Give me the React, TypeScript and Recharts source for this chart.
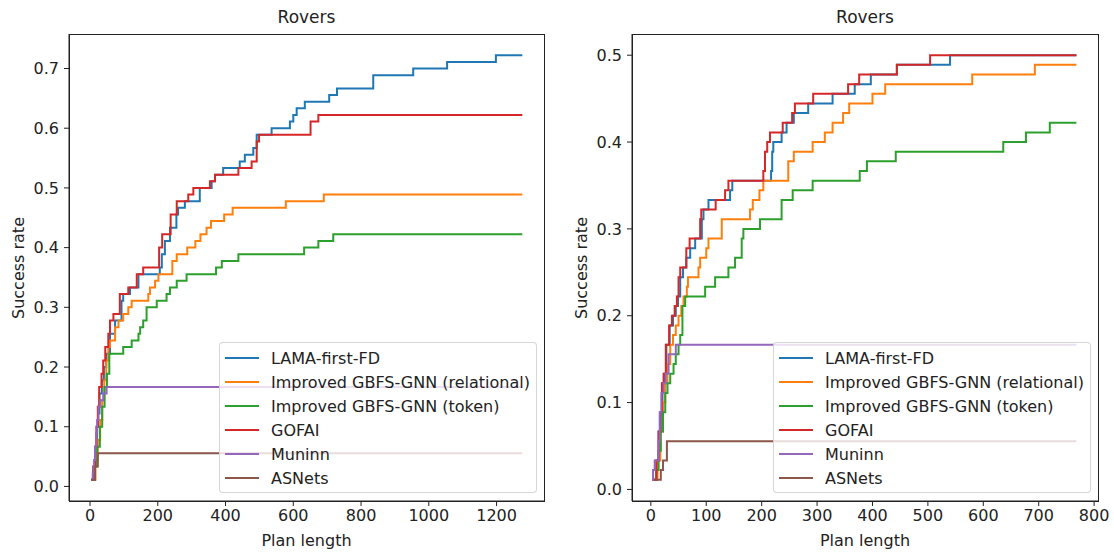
import React from 'react';
import { LineChart, Line, XAxis, YAxis } from 'recharts';

// Rovers benchmark: 90 problems, curves give cumulative solved count vs plan length
const NUM_PROBLEMS = 90;

const seriesNames = [
  'LAMA-first-FD',
  'Improved GBFS-GNN (relational)',
  'Improved GBFS-GNN (token)',
  'GOFAI',
  'Muninn',
  'ASNets',
];
const seriesColors = ['#1f77b4', '#ff7f0e', '#2ca02c', '#d62728', '#9467bd', '#8c564b'];

// [plan length, solved] — left panel
const leftLama: [number, number][] = [
  [4, 1], [10, 3], [15, 6], [20, 9], [24, 11], [28, 14], [35, 16], [41, 18], [48, 20], [59, 23],
  [74, 25], [93, 28], [98, 29], [118, 30], [143, 32], [206, 33], [212, 35], [221, 37], [236, 39],
  [255, 41], [260, 42], [280, 43], [324, 45], [359, 46], [369, 47], [393, 48], [442, 49], [457, 50],
  [482, 51], [492, 53], [536, 54], [590, 55], [600, 56], [610, 57], [634, 58], [706, 59], [729, 60],
  [836, 62], [954, 63], [1054, 64], [1198, 65], [1276, 65],
];
const leftRelational: [number, number][] = [
  [8, 1], [16, 4], [23, 7], [30, 10], [36, 13], [42, 16], [48, 19], [54, 21], [59, 22], [74, 24],
  [84, 25], [98, 26], [113, 27], [123, 28], [172, 29], [177, 30], [192, 31], [202, 32], [243, 34],
  [256, 35], [287, 36], [311, 37], [326, 38], [344, 39], [357, 40], [396, 41], [421, 42], [578, 43],
  [690, 44], [1276, 44],
];
const leftToken: [number, number][] = [
  [4, 1], [14, 3], [21, 6], [29, 9], [36, 12], [43, 15], [50, 17], [57, 20], [98, 21], [123, 22],
  [143, 23], [148, 24], [157, 25], [167, 27], [197, 28], [226, 29], [236, 30], [256, 31], [285, 32],
  [372, 33], [389, 34], [438, 35], [632, 36], [674, 37], [718, 38], [1276, 38],
];
const leftGofai: [number, number][] = [
  [4, 1], [10, 3], [15, 6], [19, 9], [23, 12], [27, 15], [34, 17], [39, 19], [45, 21], [54, 23],
  [59, 25], [69, 26], [88, 29], [113, 30], [138, 32], [157, 33], [204, 36], [213, 38], [238, 41],
  [256, 43], [290, 44], [305, 45], [354, 46], [369, 47], [438, 48], [477, 49], [492, 52], [499, 53],
  [651, 55], [674, 56], [1276, 56],
];
const leftMuninn: [number, number][] = [
  [3, 1], [8, 2], [12, 4], [15, 6], [18, 8], [21, 10], [25, 12], [30, 13], [39, 14], [49, 15], [1276, 15],
];
const leftAsnets: [number, number][] = [[3, 1], [15, 3], [23, 5], [1276, 5]];

// [plan length, solved] — right panel
const rightLama: [number, number][] = [
  [3, 1], [10, 3], [14, 6], [18, 8], [21, 11], [24, 12], [28, 15], [34, 17], [40, 18], [45, 19],
  [49, 20], [53, 22], [58, 23], [64, 24], [71, 25], [80, 26], [92, 28], [95, 29], [104, 30],
  [143, 31], [147, 32], [217, 33], [219, 35], [221, 36], [236, 37], [245, 38], [258, 39], [284, 40],
  [328, 41], [368, 42], [397, 43], [444, 44], [540, 45], [768, 45],
];
const rightRelational: [number, number][] = [
  [5, 1], [12, 3], [17, 6], [22, 9], [26, 11], [30, 13], [35, 15], [40, 16], [45, 17], [50, 18],
  [55, 19], [59, 20], [65, 21], [67, 22], [86, 23], [89, 24], [100, 25], [104, 26], [128, 28],
  [179, 29], [184, 30], [196, 31], [203, 32], [248, 34], [258, 35], [292, 36], [314, 37], [328, 38],
  [347, 39], [358, 40], [400, 41], [423, 42], [580, 43], [693, 44], [768, 44],
];
const rightToken: [number, number][] = [
  [3, 1], [10, 2], [14, 4], [18, 6], [22, 8], [26, 10], [30, 11], [35, 12], [41, 13], [45, 14],
  [50, 15], [53, 16], [57, 19], [62, 20], [98, 21], [116, 22], [140, 23], [152, 24], [164, 26],
  [167, 27], [197, 28], [236, 30], [256, 31], [292, 32], [377, 33], [390, 34], [442, 35], [636, 36],
  [677, 37], [720, 38], [768, 38],
];
const rightGofai: [number, number][] = [
  [3, 1], [10, 3], [14, 6], [17, 8], [20, 11], [23, 12], [27, 15], [33, 17], [38, 18], [43, 19],
  [47, 20], [50, 22], [53, 23], [64, 25], [70, 26], [89, 28], [91, 29], [117, 30], [134, 31],
  [140, 32], [203, 33], [206, 35], [210, 36], [215, 37], [238, 38], [255, 39], [260, 40], [293, 41],
  [356, 42], [376, 43], [444, 44], [504, 45], [768, 45],
];
const rightMuninn: [number, number][] = [
  [2, 1], [4, 2], [7, 3], [14, 5], [16, 8], [19, 10], [23, 11], [27, 12], [32, 14], [45, 15], [768, 15],
];
const rightAsnets: [number, number][] = [[8, 1], [18, 2], [22, 3], [29, 5], [768, 5]];

const leftXTicks = [0, 200, 400, 600, 800, 1000, 1200];
const leftYTicks = [0, 0.1, 0.2, 0.3, 0.4, 0.5, 0.6, 0.7];
const rightXTicks = [0, 100, 200, 300, 400, 500, 600, 700, 800];
const rightYTicks = [0, 0.1, 0.2, 0.3, 0.4, 0.5];

const toPoints = (pairs: [number, number][]) =>
  pairs.map(([x, solved]) => ({ x, y: solved / NUM_PROBLEMS }));

const FONT = '"DejaVu Sans", sans-serif';
const INK = '#222';
const TEXT_SIZE = 16;
const tickStyle = { fontSize: TEXT_SIZE, fill: INK, fontFamily: FONT };

interface PanelProps {
  left: number;
  yAxisWidth: number;
  marginRight: number;
  xDomain: [number, number];
  yDomain: [number, number];
  xTicks: number[];
  yTicks: number[];
  series: [number, number][][];
}

const W = 557;
const H = 556;
const TOP = 34;
const X_AXIS_H = 55;

const Panel: React.FC<PanelProps> = ({ left, yAxisWidth, marginRight, xDomain, yDomain, xTicks, yTicks, series }) => {
  const plotLeft = yAxisWidth;
  const plotWidth = W - yAxisWidth - marginRight;
  const plotHeight = H - TOP - X_AXIS_H;
  const plotCenterX = plotLeft + plotWidth / 2;
  const plotCenterY = TOP + plotHeight / 2;
  const legendRight = plotLeft + plotWidth - 7;

  return (
    <div style={{ position: 'absolute', left, top: 0, width: W, height: H }}>
      <LineChart width={W} height={H} margin={{ top: TOP, right: marginRight, bottom: 0, left: 0 }}>
        <XAxis
          dataKey="x"
          type="number"
          domain={xDomain}
          ticks={xTicks}
          allowDataOverflow
          height={X_AXIS_H}
          tick={tickStyle}
          tickSize={5}
          tickMargin={4}
          tickLine={{ stroke: INK }}
          axisLine={{ stroke: INK }}
        />
        <YAxis
          type="number"
          domain={yDomain}
          ticks={yTicks}
          allowDataOverflow
          width={yAxisWidth}
          tick={tickStyle}
          tickSize={5}
          tickMargin={5}
          tickFormatter={(v: number) => v.toFixed(1)}
          tickLine={{ stroke: INK }}
          axisLine={{ stroke: INK }}
        />
        {series.map((pairs, i) => (
          <Line
            key={seriesNames[i]}
            data={toPoints(pairs)}
            dataKey="y"
            type="stepAfter"
            stroke={seriesColors[i]}
            strokeWidth={2}
            dot={false}
            activeDot={false}
            isAnimationActive={false}
          />
        ))}
      </LineChart>

      {/* axes frame (all four spines) */}
      <div
        style={{
          position: 'absolute',
          left: plotLeft - 0.5,
          top: TOP - 0.5,
          width: plotWidth + 1,
          height: plotHeight + 1,
          boxSizing: 'border-box',
          border: `1px solid ${INK}`,
          pointerEvents: 'none',
        }}
      />

      <div style={{ position: 'absolute', left: plotCenterX, top: 5, transform: 'translateX(-50%)', fontSize: 17, lineHeight: '24px', color: INK, whiteSpace: 'nowrap' }}>
        Rovers
      </div>
      <div style={{ position: 'absolute', left: plotCenterX, top: 530, transform: 'translateX(-50%)', fontSize: TEXT_SIZE, lineHeight: '22px', color: INK, whiteSpace: 'nowrap' }}>
        Plan length
      </div>
      <div
        style={{
          position: 'absolute',
          left: plotLeft - 51,
          top: plotCenterY,
          transform: 'translate(-50%, -50%) rotate(-90deg)',
          fontSize: TEXT_SIZE,
          color: INK,
          whiteSpace: 'nowrap',
        }}
      >
        Success rate
      </div>

      <div
        style={{
          position: 'absolute',
          left: legendRight - 318,
          top: 342,
          width: 318,
          height: 151,
          boxSizing: 'border-box',
          background: 'rgba(255,255,255,0.8)',
          border: '1px solid rgba(204,204,204,0.8)',
          borderRadius: 4,
        }}
      >
        {seriesNames.map((name, i) => (
          <div key={name} style={{ position: 'absolute', left: 0, top: 3 + 24 * i, height: 24, display: 'flex', alignItems: 'center' }}>
            <svg width={40} height={24} style={{ marginLeft: 5 }}>
              <line x1={0} y1={12} x2={34} y2={12} stroke={seriesColors[i]} strokeWidth={2} />
            </svg>
            <span style={{ marginLeft: 6, fontSize: TEXT_SIZE, color: INK, whiteSpace: 'nowrap' }}>{name}</span>
          </div>
        ))}
      </div>
    </div>
  );
};

export default function App() {
  return (
    <div style={{ position: 'absolute', left: 0, top: 0, width: 1114, height: 556, background: '#fff', fontFamily: FONT }}>
      <Panel
        left={0}
        yAxisWidth={69}
        marginRight={13}
        xDomain={[-62, 1340]}
        yDomain={[-0.0244, 0.7578]}
        xTicks={leftXTicks}
        yTicks={leftYTicks}
        series={[leftLama, leftRelational, leftToken, leftGofai, leftMuninn, leftAsnets]}
      />
      <Panel
        left={557}
        yAxisWidth={75}
        marginRight={16}
        xDomain={[-34, 807]}
        yDomain={[-0.01333, 0.5244]}
        xTicks={rightXTicks}
        yTicks={rightYTicks}
        series={[rightLama, rightRelational, rightToken, rightGofai, rightMuninn, rightAsnets]}
      />
    </div>
  );
}
